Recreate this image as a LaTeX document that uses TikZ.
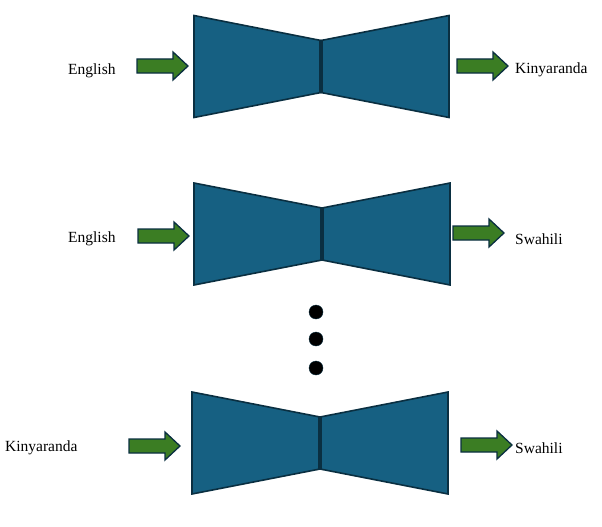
\documentclass[tikz,border=0pt]{standalone}
\usepackage{fontspec}
\setmainfont{Liberation Serif}
\definecolor{bowblue}{HTML}{166082}
\definecolor{bowedge}{HTML}{0A2F41}
\definecolor{arrgreen}{HTML}{3B7D23}
\tikzset{
  x=1pt, y=-1pt,
  half/.style={fill=bowblue, draw=bowedge, line width=1.6pt, line join=miter},
  midline/.style={draw=bowedge, line width=3.2pt},
  lbl/.style={font=\fontsize{15.5}{18}\selectfont, inner sep=0pt, anchor=west},
  dot/.style={circle, fill=black, draw=bowedge, minimum size=14pt, inner sep=0pt},
  pics/fatarrow/.style={code={
    \draw[fill=arrgreen, draw=bowedge, line width=1.3pt, line join=miter]
      (0,-7) -- (36,-7) -- (36,-14) -- (51,0) -- (36,14) -- (36,7) -- (0,7) -- cycle;
  }},
  pics/bowtie/.style args={#1/#2}{code={
    \draw[half] (-#1,-51) -- (0,-26) -- (0,26) -- (-#1,51) -- cycle;
    \draw[half] (#2,-51) -- (0,-26) -- (0,26) -- (#2,51) -- cycle;
    \draw[midline] (0,-26) -- (0,26);
  }}
}
\begin{document}
\begin{tikzpicture}
\useasboundingbox (0,0) rectangle (602,527);
% row 1
\pic at (321,66.5) {bowtie=127/128};
\pic at (137,66) {fatarrow};
\pic at (457,66) {fatarrow};
\node[lbl] (in1) at (68,71) {English};
\node[lbl] (out1) at (515,70) {Kinyaranda};
% row 2
\pic at (322,234) {bowtie=128/128};
\pic at (138,236) {fatarrow};
\pic at (453,233) {fatarrow};
\node[lbl] (in2) at (68,239) {English};
\node[lbl] (out2) at (515,239) {Swahili};
% dots
\node[dot] (d1) at (316,312) {};
\node[dot] (d2) at (316,339) {};
\node[dot] (d3) at (316,368) {};
% row 3
\pic at (320,443) {bowtie=128/128};
\pic at (129,446) {fatarrow};
\pic at (461,445) {fatarrow};
\node[lbl] (in3) at (5,448) {Kinyaranda};
\node[lbl] (out3) at (515,448) {Swahili};
\end{tikzpicture}
\end{document}
